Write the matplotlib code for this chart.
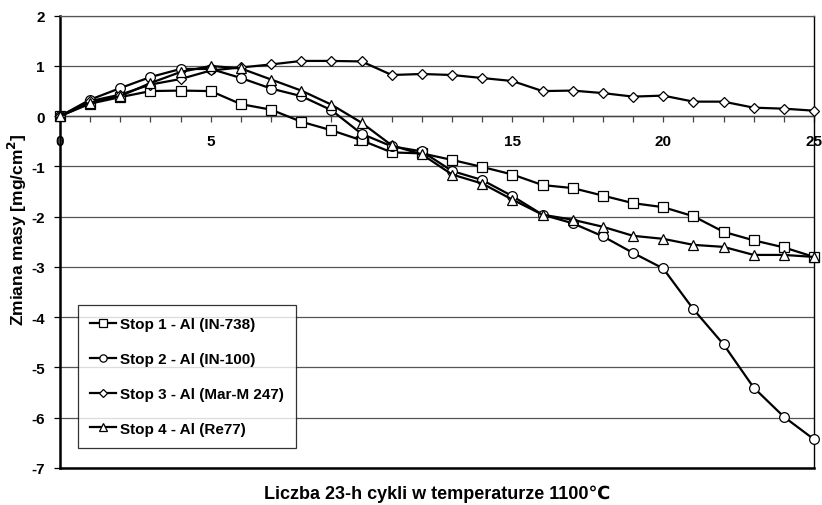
import matplotlib
matplotlib.use("Agg")
import matplotlib.pyplot as plt
from matplotlib.ticker import MultipleLocator

plt.rcParams['font.family'] = ['Liberation Sans', 'DejaVu Sans']
plt.rcParams['font.weight'] = 'bold'
plt.rcParams['axes.unicode_minus'] = False
plt.rcParams['mathtext.default'] = 'bf'

cycles = list(range(26))
stop1 = [0, 0.25, 0.38, 0.50, 0.51, 0.50, 0.24, 0.13, -0.11, -0.28, -0.48, -0.72, -0.74,
         -0.87, -1.01, -1.16, -1.37, -1.43, -1.58, -1.73, -1.81, -1.99, -2.30, -2.47, -2.61, -2.80]
stop2 = [0, 0.33, 0.56, 0.78, 0.94, 0.94, 0.76, 0.55, 0.40, 0.12, -0.35, -0.60, -0.70,
         -1.09, -1.27, -1.59, -1.96, -2.13, -2.39, -2.72, -3.03, -3.84, -4.54, -5.40, -5.98, -6.43]
stop3 = [0, 0.30, 0.43, 0.63, 0.74, 0.91, 0.97, 1.03, 1.10, 1.10, 1.09, 0.82, 0.84,
         0.82, 0.76, 0.70, 0.50, 0.51, 0.46, 0.39, 0.41, 0.29, 0.29, 0.17, 0.15, 0.11]
stop4 = [0, 0.27, 0.40, 0.66, 0.88, 1.00, 0.95, 0.73, 0.51, 0.23, -0.13, -0.58, -0.76,
         -1.16, -1.34, -1.66, -1.96, -2.06, -2.20, -2.38, -2.44, -2.56, -2.60, -2.76, -2.76, -2.80]

labels = ['Stop 1 - Al (IN-738)', 'Stop 2 - Al (IN-100)',
          'Stop 3 - Al (Mar-M 247)', 'Stop 4 - Al (Re77)']
xlabel = 'Liczba 23-h cykli w temperaturze 1100\u2103'
ylabel = 'Zmiana masy [mg/cm$^{2}$]'

fig = plt.figure(figsize=(8.22, 5.06), dpi=100)
ax = fig.add_axes([60/822, 1-469/506, 754/822, 452.3/506])

series = [(stop1, 's', 7), (stop2, 'o', 7), (stop3, 'D', 5), (stop4, '^', 7.5)]
for (vals, m, ms), lab in zip(series, labels):
    ax.plot(cycles, vals, color='black', lw=1.6, marker=m, ms=ms,
            mfc='white', mec='black', mew=0.9, label=lab, clip_on=False, zorder=3)

ax.set_xlim(0, 25)
ax.set_ylim(-7, 2)
ax.xaxis.set_major_locator(MultipleLocator(5))
ax.xaxis.set_minor_locator(MultipleLocator(1))
ax.yaxis.set_major_locator(MultipleLocator(1))

ax.grid(axis='y', color='#555555', lw=0.9, zorder=0)
ax.spines['bottom'].set_position(('data', 0))
ax.spines['bottom'].set_color('#444444')
ax.spines['bottom'].set_linewidth(1.0)
ax.spines['top'].set_color('#555555')
ax.spines['top'].set_linewidth(0.9)
ax.spines['left'].set_linewidth(1.8)
ax.spines['right'].set_linewidth(1.0)
ax.axhline(-7, color='black', lw=1.8, clip_on=False, zorder=2)

ax.tick_params(axis='x', which='both', direction='out', length=4, width=0.9,
               color='#444444', pad=9, labelsize=11)
ax.tick_params(axis='y', which='major', direction='out', length=4, width=0.9,
               pad=7, labelsize=11)
for t in ax.get_xticklabels() + ax.get_yticklabels():
    t.set_fontweight('bold')

fig.text(17/822, 1-230/506, ylabel, rotation=90, ha='center', va='center',
         fontsize=12.5, fontweight='bold')
fig.text(437/822, 1-494/506, xlabel, ha='center', va='center', fontsize=13, fontweight='bold')

leg = ax.legend(loc='lower left', bbox_to_anchor=((78-60)/754, (469-449)/452.3),
                borderaxespad=0, frameon=True, fancybox=False, edgecolor='black',
                labelspacing=1.36, borderpad=0.8, handlelength=1.7,
                handletextpad=0.25, markerscale=0.75, prop={'weight': 'bold', 'size': 11})
leg.get_frame().set_linewidth(0.9)

fig.savefig('out.png', dpi=100)
